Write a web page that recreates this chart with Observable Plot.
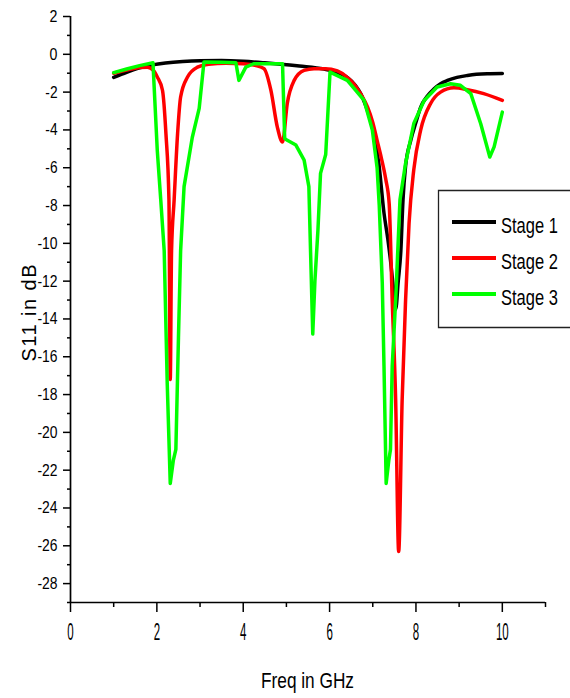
<!DOCTYPE html>
<html>
<head>
<meta charset="utf-8">
<script src="https://cdn.jsdelivr.net/npm/d3@7"></script>
<script src="https://cdn.jsdelivr.net/npm/@observablehq/plot@0.6"></script>
<style>
  body { margin: 0; background: #fff; }
  #wrap { position: relative; width: 570px; height: 698px; overflow: hidden; background: #fff; }
  #legend { position: absolute; left: 0; top: 0; }
</style>
</head>
<body>
<div id="wrap"></div>
<script>
// ---- data ----
const seriesNames = ["Stage 1", "Stage 2", "Stage 3"];
const seriesColors = ["#000000", "#ff0000", "#00ff00"];

const stage1Freq = [1.0, 1.3, 1.6, 1.9, 2.2, 2.6, 3.0, 3.5, 4.0, 4.5, 4.87, 5.3, 5.87, 6.2, 6.41, 6.6, 6.72, 6.85, 6.95, 7.05, 7.14, 7.26, 7.35, 7.41, 7.47, 7.53, 7.59, 7.65, 7.70, 7.76, 7.88, 8.0, 8.11, 8.25, 8.42, 8.57, 8.73, 8.95, 9.19, 9.4, 9.65, 10.0];
const stage1S11  = [-1.22, -0.95, -0.72, -0.56, -0.46, -0.38, -0.34, -0.33, -0.37, -0.45, -0.52, -0.62, -0.78, -0.98, -1.22, -1.65, -2.08, -2.8, -3.5, -4.5, -5.78, -8.4, -9.8, -10.9, -12.2, -13.5, -12.0, -10.4, -7.7, -5.9, -4.55, -3.6, -2.79, -2.25, -1.82, -1.55, -1.38, -1.22, -1.12, -1.06, -1.03, -1.02];

const stage2Freq = [1.0, 1.2, 1.4, 1.6, 1.78, 1.92, 2.01, 2.13, 2.21, 2.28, 2.31, 2.34, 2.40, 2.48, 2.55, 2.71, 2.94, 3.2, 3.6, 4.0, 4.3, 4.48, 4.64, 4.79, 4.91, 5.02, 5.18, 5.41, 5.64, 5.9, 6.18, 6.4, 6.56, 6.72, 6.88, 7.0, 7.1, 7.2, 7.3, 7.38, 7.45, 7.53, 7.6, 7.68, 7.76, 7.84, 7.95, 8.11, 8.34, 8.57, 8.88, 9.19, 9.57, 10.0];
const stage2S11  = [-1.0, -0.88, -0.78, -0.7, -0.68, -0.85, -1.2, -1.9, -4.2, -7.7, -17.2, -10.4, -7.7, -4.2, -2.26, -1.2, -0.68, -0.52, -0.47, -0.5, -0.6, -0.76, -1.9, -3.85, -4.64, -2.6, -1.38, -0.85, -0.76, -0.76, -0.88, -1.2, -1.56, -2.1, -2.79, -3.6, -4.55, -5.5, -6.6, -7.9, -13.0, -18.3, -26.3, -18.3, -13.0, -8.95, -6.1, -4.0, -2.6, -2.0, -1.77, -1.87, -2.08, -2.44];

const stage3Freq = [1.0, 1.3, 1.6, 1.91, 2.01, 2.09, 2.17, 2.24, 2.31, 2.38, 2.44, 2.5, 2.55, 2.63, 2.82, 2.98, 3.09, 3.5, 3.83, 3.9, 4.06, 4.24, 4.6, 4.91, 4.96, 5.02, 5.22, 5.41, 5.52, 5.56, 5.61, 5.66, 5.73, 5.79, 5.91, 6.01, 6.41, 6.8, 6.99, 7.1, 7.15, 7.22, 7.26, 7.31, 7.37, 7.41, 7.45, 7.53, 7.63, 7.76, 7.95, 8.19, 8.49, 8.8, 9.03, 9.27, 9.5, 9.71, 9.81, 10.0];
const stage3S11  = [-0.97, -0.78, -0.6, -0.45, -5.1, -7.7, -10.4, -17.4, -22.7, -21.5, -20.9, -15.0, -10.4, -7.0, -4.4, -2.86, -0.41, -0.42, -0.45, -1.38, -0.68, -0.5, -0.5, -0.5, -4.45, -4.55, -4.8, -5.6, -7.0, -10.5, -14.8, -12.0, -9.3, -6.3, -5.3, -0.94, -1.38, -2.44, -4.0, -6.0, -8.0, -12.1, -16.5, -22.7, -21.5, -20.9, -16.5, -13.0, -7.7, -5.77, -3.66, -2.44, -1.73, -1.56, -1.64, -2.08, -3.67, -5.43, -4.9, -3.06];

const xMajorTicks = [0, 2, 4, 6, 8, 10];
const xMinorTicks = [1, 3, 5, 7, 9, 11];
const yMajorTicks = [2, 0, -2, -4, -6, -8, -10, -12, -14, -16, -18, -20, -22, -24, -26, -28];
const yMinorTicks = [1, -1, -3, -5, -7, -9, -11, -13, -15, -17, -19, -21, -23, -25, -27, -29];
const xTitle = "Freq in GHz";
const yTitle = "S11 in dB";

// ---- build rows ----
const allFreq = [stage1Freq, stage2Freq, stage3Freq];
const allS11 = [stage1S11, stage2S11, stage3S11];
const rows = [];
seriesNames.forEach((name, i) => {
  allFreq[i].forEach((f, j) => rows.push({ stage: name, freq: f, s11: allS11[i][j] }));
});
const smoothRows = rows.filter(d => d.stage !== "Stage 3");
const greenRows = rows.filter(d => d.stage === "Stage 3");

const font = "'Liberation Sans', Arial, sans-serif";

const chart = Plot.plot({
  width: 570,
  height: 698,
  marginLeft: 70,
  marginRight: 25,
  marginTop: 16,
  marginBottom: 96,
  style: { fontFamily: font, background: "white", color: "black" },
  x: { domain: [0, 11] },
  y: { domain: [-29, 2] },
  color: { domain: seriesNames, range: seriesColors },
  marks: [
    Plot.axisX({ ticks: xMajorTicks, tickSize: 10, tickPadding: 11, tickFormat: d => String(d), label: null, strokeWidth: 1.5, fontSize: 23 }),
    Plot.axisX({ ticks: xMinorTicks, tickSize: 5, tickFormat: () => "", label: null, strokeWidth: 1.5 }),
    Plot.axisY({ ticks: yMajorTicks, tickSize: 7, tickPadding: 6, tickFormat: d => String(d), label: null, strokeWidth: 1.5, fontSize: 17 }),
    Plot.axisY({ ticks: yMinorTicks, tickSize: 3, tickFormat: () => "", label: null, strokeWidth: 1.5 }),
    Plot.ruleX([0], { strokeWidth: 1.7 }),
    Plot.ruleY([-29], { strokeWidth: 1.7 }),
    Plot.line(smoothRows, { x: "freq", y: "s11", z: "stage", stroke: "stage", strokeWidth: 3.5, curve: "monotone-x", strokeLinejoin: "round" }),
    Plot.line(greenRows, { x: "freq", y: "s11", z: "stage", stroke: "stage", strokeWidth: 3.5, curve: "linear", strokeLinejoin: "round" })
  ]
});

const wrap = document.getElementById("wrap");
wrap.appendChild(chart);

// condensed tick labels, like the reference
d3.select(chart).selectAll('[aria-label="x-axis tick label"] text').each(function () {
  const t = this.textContent;
  if (t) d3.select(this).attr("textLength", t.length * 6.4).attr("lengthAdjust", "spacingAndGlyphs");
});
d3.select(chart).selectAll('[aria-label="y-axis tick label"] text').each(function () {
  const t = this.textContent;
  if (!t) return;
  const digits = t.replace("-", "").length;
  const len = digits * 7.9 + (t.startsWith("-") ? 4.3 : 0);
  d3.select(this).attr("textLength", len).attr("lengthAdjust", "spacingAndGlyphs");
});

// axis titles
const svg = d3.select(chart);
svg.append("text")
  .attr("x", 307.5).attr("y", 688)
  .attr("text-anchor", "middle")
  .attr("font-family", font)
  .attr("font-size", 22)
  .attr("textLength", 93).attr("lengthAdjust", "spacingAndGlyphs")
  .attr("fill", "black")
  .text(xTitle);
svg.append("text")
  .attr("transform", "translate(36,313) rotate(-90)")
  .attr("text-anchor", "middle")
  .attr("font-family", font)
  .attr("font-size", 20)
  .attr("textLength", 97).attr("lengthAdjust", "spacing")
  .attr("fill", "black")
  .text(yTitle);

// legend (inside plot, right side; box runs past the right edge as in the reference)
const lg = d3.select(wrap).append("svg")
  .attr("id", "legend")
  .attr("width", 570).attr("height", 698)
  .style("pointer-events", "none");
lg.append("rect")
  .attr("x", 438.5).attr("y", 190.5)
  .attr("width", 140).attr("height", 137)
  .attr("fill", "white").attr("stroke", "none");
lg.append("path")
  .attr("d", "M570,190.5H438.5V327.5H570")
  .attr("fill", "none").attr("stroke", "#222").attr("stroke-width", 1.3);
seriesNames.forEach((name, i) => {
  const yy = 222 + i * 36;
  lg.append("line")
    .attr("x1", 452).attr("x2", 496).attr("y1", yy).attr("y2", yy)
    .attr("stroke", seriesColors[i]).attr("stroke-width", 4);
  lg.append("text")
    .attr("transform", `translate(501,${yy + 11}) scale(1,1.3)`)
    .attr("font-family", font)
    .attr("font-size", 16.5)
    .attr("fill", "black")
    .text(name);
});
</script>
</body>
</html>
